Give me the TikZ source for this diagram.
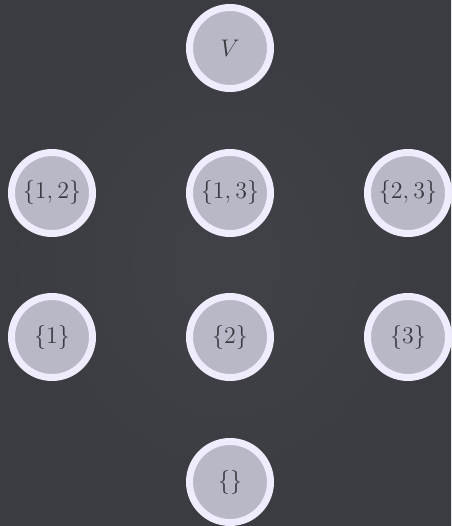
\documentclass[tikz,border=0pt]{standalone}
\usepackage{xcolor}
\usepackage{tikz}
\definecolor{BgGray}{RGB}{59,60,65}
\definecolor{BgLight}{RGB}{65,66,71}
\definecolor{RingWhite}{RGB}{238,236,253}
\definecolor{SetFill}{RGB}{185,184,198}
\definecolor{InkGray}{RGB}{58,58,66}

\begin{document}
\begin{tikzpicture}[
  x=1pt, y=1pt,
  font=\large,
  setnode/.style={circle, draw=RingWhite, fill=SetFill, line width=3.5pt, minimum size=40.5pt, inner sep=0pt, text=InkGray}
]
% background
\shade[inner color=BgLight, outer color=BgGray] (0,0) rectangle (225.5,263);
\useasboundingbox (0,0) rectangle (225.5,263);

% top
\node[setnode] (V) at (115,239) {$V$};

% pairs
\node[setnode] (s12) at (26,166.5) {$\{1,2\}$};
\node[setnode] (s13) at (115,166.5) {$\{1,3\}$};
\node[setnode] (s23) at (204,166.5) {$\{2,3\}$};

% singletons
\node[setnode] (s1) at (26,94.5) {$\{1\}$};
\node[setnode] (s2) at (115,94.5) {$\{2\}$};
\node[setnode] (s3) at (204,94.5) {$\{3\}$};

% empty set
\node[setnode] (empty) at (115,22) {$\{\}$};
\end{tikzpicture}
\end{document}
